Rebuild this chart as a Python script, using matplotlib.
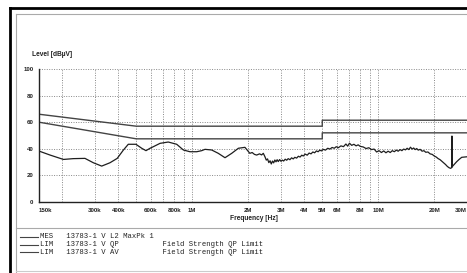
import matplotlib
matplotlib.use("Agg")
import matplotlib.pyplot as plt
from matplotlib.lines import Line2D

mes_freq = [0.15, 0.172, 0.203, 0.229, 0.265, 0.294, 0.326, 0.361, 0.395, 0.426,
            0.453, 0.498, 0.535, 0.564, 0.593, 0.618, 0.671, 0.743, 0.825, 0.896,
            0.972, 1.057, 1.124, 1.171, 1.272, 1.38, 1.5, 1.63, 1.77, 1.92,
            2.04, 2.1, 2.16, 2.22, 2.3, 2.36, 2.41, 2.46, 2.5, 2.54,
            2.58, 2.62, 2.66, 2.7, 2.74, 2.78, 2.82, 2.86, 2.9, 2.95,
            3.0, 3.05, 3.1, 3.16, 3.22, 3.28, 3.35, 3.42, 3.49, 3.56,
            3.64, 3.72, 3.8, 3.88, 3.95, 4.05, 4.15, 4.25, 4.35, 4.45,
            4.55, 4.65, 4.75, 4.85, 4.95, 5.07, 5.2, 5.35, 5.5, 5.65,
            5.8, 5.95, 6.1, 6.3, 6.5, 6.7, 6.85, 7.0, 7.2, 7.4,
            7.6, 7.8, 8.0, 8.3, 8.6, 8.9, 9.2, 9.5, 9.8, 10.1,
            10.4, 10.7, 11.0, 11.3, 11.6, 11.9, 12.2, 12.5, 12.8, 13.1,
            13.4, 13.7, 14.0, 14.3, 14.6, 14.9, 15.2, 15.5, 15.8, 16.1,
            16.4, 16.8, 17.2, 17.6, 18.0, 18.5, 19.0, 19.5, 20.0, 20.5,
            21.0, 21.5, 22.0, 22.5, 23.0, 23.5, 24.0, 24.5, 24.9, 24.9,
            24.95, 25.5, 26.4, 27.2, 28.1, 29.0, 30.0]
mes_level = [38.3, 35.3, 32.0, 32.6, 32.8, 29.5, 27.0, 29.5, 32.8, 39.0,
             43.4, 43.4, 40.4, 38.6, 40.4, 41.6, 44.1, 45.1, 43.4, 39.1,
             37.8, 37.8, 38.6, 39.6, 39.1, 36.6, 33.3, 36.6, 40.4, 41.1,
             36.6, 37.2, 35.8, 35.3, 36.2, 35.4, 36.6, 34.0, 31.5, 32.4,
             29.6, 31.0, 28.6, 30.8, 29.4, 31.6, 30.2, 31.8, 30.4, 31.9,
             30.6, 31.5, 30.8, 32.2, 31.4, 32.6, 31.8, 33.2, 32.4, 33.6,
             33.0, 34.4, 33.8, 35.2, 34.6, 36.0, 35.2, 36.8, 36.2, 37.6,
             37.0, 38.4, 37.8, 39.0, 38.4, 39.6, 39.0, 40.4, 39.8, 41.0,
             40.4, 41.6, 40.8, 42.2, 41.6, 43.6, 42.0, 44.2, 42.6, 43.4,
             42.2, 43.0, 41.8, 41.4, 40.2, 40.8, 39.4, 39.8, 37.6, 38.6,
             37.2, 38.4, 37.0, 38.2, 37.2, 38.6, 37.8, 39.0, 38.2, 39.4,
             38.6, 39.8, 39.2, 40.4, 39.4, 41.2, 39.8, 40.6, 39.4, 40.2,
             39.0, 39.6, 38.2, 38.6, 37.4, 37.6, 36.2, 35.8, 34.6, 33.8,
             32.6, 31.8, 30.6, 29.4, 28.2, 26.8, 25.8, 25.3, 26.0, 49.6,
             26.5, 28.0, 30.3, 32.0, 33.6, 33.8, 34.0]

# limit lines
lim_freq = [0.15, 0.5, 5.0, 5.0, 30.0]
qp_level = [66, 57, 57, 61.5, 61.5]
av_level = [60, 47.5, 47.5, 52, 52]

grid_freq = [0.2, 0.3, 0.4, 0.5, 0.6, 0.7, 0.8, 0.9, 1, 2, 3, 4, 5, 6, 7, 8, 9, 10, 20, 30]
tick_text = {0.15: "150k", 0.3: "300k", 0.4: "400k", 0.6: "600k", 0.8: "800k", 1: "1M",
             2: "2M", 3: "3M", 4: "4M", 5: "5M", 6: "6M", 8: "8M", 10: "10M",
             20: "20M", 30: "30M"}
y_ticks = [0, 20, 40, 60, 80, 100]

legend_rows = [
    "MES   13783-1 V L2 MaxPk 1",
    "LIM   13783-1 V QP          Field Strength QP Limit",
    "LIM   13783-1 V AV          Field Strength QP Limit",
]

W, H = 467, 273


def px(x, y):
    return x / W, 1 - y / H


fig = plt.figure(figsize=(W / 100, H / 100), dpi=100)
ax = fig.add_axes([39 / W, (H - 202) / H, (467 - 39) / W, (202 - 69) / H])

ax.plot([f * 1e6 for f in mes_freq], mes_level, color="#1e1e1e", lw=0.9)
ax.plot([f * 1e6 for f in lim_freq], qp_level, color="#444444", lw=1.0)
ax.plot([f * 1e6 for f in lim_freq], av_level, color="#444444", lw=1.0)

ax.set_xscale("log")
ax.set_xlim(0.15e6, 30e6)
ax.set_ylim(0, 100)

ticks = [0.15] + grid_freq
ax.set_xticks([t * 1e6 for t in ticks])
ax.set_xticklabels([tick_text.get(t, "") for t in ticks])
ax.xaxis.set_minor_locator(matplotlib.ticker.NullLocator())
ax.set_yticks(y_ticks)
ax.tick_params(length=0, labelsize=4.4, colors="#222222", pad=4)
for lbl in ax.get_xticklabels() + ax.get_yticklabels():
    lbl.set_fontweight("bold")
    lbl.set_family("Liberation Sans")
ax.get_xticklabels()[0].set_horizontalalignment("left")
ax.get_xticklabels()[-1].set_horizontalalignment("right")

ax.grid(True, which="major", color="#888888", linestyle=(0, (1, 1.5)), lw=0.7)
for s in ["top", "right"]:
    ax.spines[s].set_visible(False)
for s in ["left", "bottom"]:
    ax.spines[s].set_color("#222222")
    ax.spines[s].set_linewidth(1.0)
ax.set_facecolor("white")

fig.text(*px(32, 55), "Level [dBµV]", fontsize=4.8, fontweight="bold",
         family="Liberation Sans", color="#222222", va="center")
fig.text(*px(254, 219), "Frequency [Hz]", fontsize=4.8, fontweight="bold",
         family="Liberation Sans", color="#222222", ha="center", va="center")

# page frames
fig.add_artist(Line2D([px(10, 0)[0], 1], [px(0, 8)[1]] * 2, color="black", lw=2))
fig.add_artist(Line2D([px(10, 0)[0]] * 2, [px(0, 8)[1], 0], color="black", lw=2))
fig.add_artist(Line2D([px(16, 0)[0], 1], [px(0, 14)[1]] * 2, color="#aaaaaa", lw=0.8))
fig.add_artist(Line2D([px(16, 0)[0]] * 2, [px(0, 14)[1], 0], color="#aaaaaa", lw=0.8))
fig.add_artist(Line2D([px(16, 0)[0], 1], [px(0, 228)[1]] * 2, color="#aaaaaa", lw=0.8))
fig.add_artist(Line2D([px(16, 0)[0], 1], [px(0, 271)[1]] * 2, color="#cccccc", lw=0.8))

# legend block
for i, row in enumerate(legend_rows):
    y = 237 + i * 7.5
    fig.add_artist(Line2D([px(20, 0)[0], px(38, 0)[0]], [px(0, y)[1]] * 2,
                          color="#444444", lw=0.8))
    fig.text(*px(40, y), row, fontsize=5.2, family="Liberation Mono",
             color="#222222", va="center")

fig.savefig("out.png", dpi=100, facecolor="white")
